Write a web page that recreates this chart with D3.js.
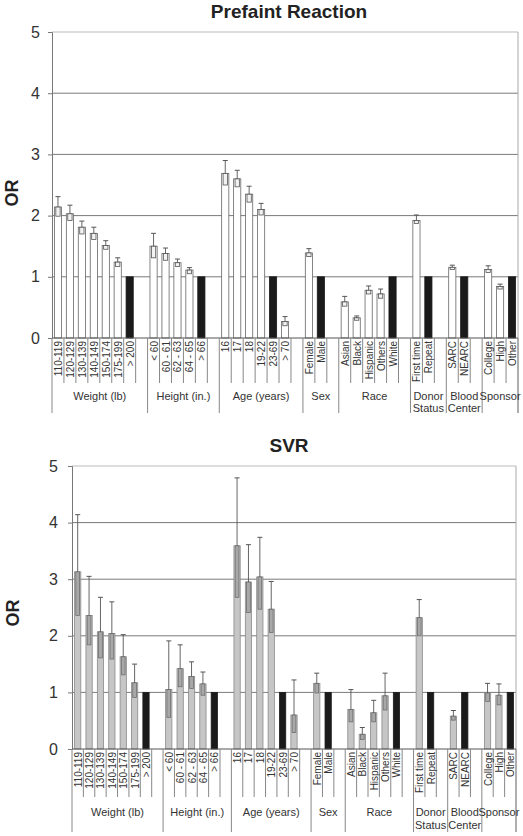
<!DOCTYPE html>
<html>
<head>
<meta charset="utf-8">
<script src="https://cdn.jsdelivr.net/npm/d3@7"></script>
<style>
  html, body { margin: 0; padding: 0; background: #fff; }
  svg { display: block; font-family: "Liberation Sans", Arial, sans-serif; }
</style>
</head>
<body>
<svg id="chart" width="523" height="836"></svg>
<script>
// ---- Data ----
const groupNames = ["Weight (lb)", "Height (in.)", "Age (years)", "Sex", "Race", "Donor\nStatus", "Blood\nCenter", "Sponsor"];
const groupSizes = [7, 5, 6, 2, 5, 2, 2, 3];
const categories = [
  "110-119", "120-129", "130-139", "140-149", "150-174", "175-199", "> 200",
  "< 60", "60 - 61", "62 - 63", "64 - 65", "> 66",
  "16", "17", "18", "19-22", "23-69", "> 70",
  "Female", "Male",
  "Asian", "Black", "Hispanic", "Others", "White",
  "First time", "Repeat",
  "SARC", "NEARC",
  "College", "High", "Other"
];
const yTicks = [0, 1, 2, 3, 4, 5];

const prefaintOR = [2.14, 2.03, 1.81, 1.71, 1.51, 1.24, 1, 1.50, 1.38, 1.23, 1.11, 1, 2.69, 2.60, 2.35, 2.10, 1, 0.27, 1.39, 1, 0.59, 0.33, 0.78, 0.72, 1, 1.92, 1, 1.155, 1, 1.12, 0.84, 1];
const prefaintLow = [1.99, 1.92, 1.70, 1.61, 1.45, 1.17, null, 1.31, 1.27, 1.17, 1.05, null, 2.50, 2.47, 2.22, 2.01, null, 0.20, 1.33, null, 0.52, 0.29, 0.72, 0.65, null, 1.87, null, 1.12, null, 1.07, 0.80, null];
const prefaintHigh = [2.31, 2.17, 1.91, 1.81, 1.59, 1.31, null, 1.71, 1.47, 1.29, 1.15, null, 2.90, 2.74, 2.48, 2.20, null, 0.35, 1.46, null, 0.68, 0.36, 0.85, 0.80, null, 2.01, null, 1.19, null, 1.18, 0.88, null];

const svrOR = [3.13, 2.36, 2.07, 2.04, 1.63, 1.17, 1, 1.05, 1.42, 1.28, 1.15, 1, 3.59, 2.95, 3.04, 2.47, 1, 0.60, 1.16, 1, 0.70, 0.26, 0.64, 0.94, 1, 2.32, 1, 0.58, 1, 0.99, 0.95, 1];
const svrLow = [2.36, 1.84, 1.61, 1.59, 1.31, 0.91, null, 0.56, 1.10, 1.07, 0.95, null, 2.68, 2.41, 2.47, 2.06, null, 0.29, 0.99, null, 0.48, 0.17, 0.48, 0.69, null, 2.00, null, 0.51, null, 0.84, 0.78, null];
const svrHigh = [4.14, 3.05, 2.68, 2.60, 2.02, 1.50, null, 1.91, 1.84, 1.54, 1.36, null, 4.79, 3.61, 3.74, 2.96, null, 1.22, 1.34, null, 1.05, 0.38, 0.86, 1.34, null, 2.64, null, 0.68, null, 1.16, 1.15, null];

// ---- Build slots (categories + one blank slot after each group but the last) ----
const slots = [];
const groupBounds = [];
let ci = 0;
groupSizes.forEach((n, g) => {
  const start = slots.length;
  for (let k = 0; k < n; k++) { slots.push({ key: "s" + slots.length, label: categories[ci], idx: ci }); ci++; }
  if (g < groupSizes.length - 1) slots.push({ key: "s" + slots.length, label: "", idx: -1 });
  groupBounds.push([start, slots.length]);
});

const svg = d3.select("#chart");

function drawChart(cfg) {
  const { title, titleY, left, right, yTop, y0, values, low, high, barFill, barStroke, innerFill, innerStroke,
          pad, tickLen, groupLen, labelY1, labelY2, orX, orY, yLabelX } = cfg;
  const g = svg.append("g");
  const x = d3.scaleBand().domain(slots.map(s => s.key)).range([left, right]).paddingInner(pad).paddingOuter(pad / 2);
  const step = x.step();
  const y = d3.scaleLinear().domain([0, 5]).range([y0, yTop]);
  const slotLeft = i => left + i * step;

  g.append("text").attr("x", 289).attr("y", titleY).attr("text-anchor", "middle")
    .attr("font-size", 19).attr("font-weight", "bold").attr("fill", "#222").text(title);

  g.append("text").attr("transform", `translate(${orX},${orY}) rotate(-90)`).attr("text-anchor", "middle")
    .attr("font-size", 18).attr("font-weight", "bold").attr("fill", "#222").text("OR");

  g.append("g").selectAll("line").data(yTicks.filter(t => t > 0)).join("line")
    .attr("x1", left).attr("x2", right).attr("y1", d => y(d)).attr("y2", d => y(d))
    .attr("stroke", d => d === 5 ? "#bbb" : "#7a7a7a").attr("stroke-width", 1);
  g.append("line").attr("x1", right).attr("x2", right).attr("y1", yTop).attr("y2", y0 + groupLen)
    .attr("stroke", "#aaa");

  const yAxis = d3.axisLeft(y).tickValues(yTicks).tickSize(4).tickPadding(yLabelX).tickFormat(d3.format("d"));
  const ax = g.append("g").attr("transform", `translate(${left},0)`).call(yAxis);
  ax.select(".domain").attr("stroke", "#777");
  ax.selectAll(".tick line").attr("stroke", "#777");
  ax.selectAll(".tick text").attr("font-size", 16).attr("fill", "#333").attr("font-family", "Liberation Sans, Arial, sans-serif");

  const data = slots.filter(s => s.idx >= 0);
  const bw = x.bandwidth();
  g.append("g").selectAll("rect").data(data).join("rect")
    .attr("x", d => x(d.key)).attr("width", bw)
    .attr("y", d => y(values[d.idx])).attr("height", d => y0 - y(values[d.idx]))
    .attr("fill", d => low[d.idx] === null ? "#1a1a1a" : barFill)
    .attr("stroke", d => low[d.idx] === null ? "#1a1a1a" : barStroke).attr("stroke-width", 0.8);

  const ciData = data.filter(d => low[d.idx] !== null);
  const iw = bw * 0.6;
  const eb = g.append("g");
  eb.selectAll("rect").data(ciData).join("rect")
    .attr("x", d => x(d.key) + (bw - iw) / 2).attr("width", iw)
    .attr("y", d => y(values[d.idx])).attr("height", d => y(low[d.idx]) - y(values[d.idx]))
    .attr("fill", innerFill).attr("stroke", innerStroke).attr("stroke-width", 0.8);
  eb.selectAll("line.wh").data(ciData).join("line").attr("class", "wh")
    .attr("x1", d => x(d.key) + bw / 2).attr("x2", d => x(d.key) + bw / 2)
    .attr("y1", d => y(values[d.idx])).attr("y2", d => y(high[d.idx]))
    .attr("stroke", "#555").attr("stroke-width", 0.9);
  eb.selectAll("line.cap").data(ciData).join("line").attr("class", "cap")
    .attr("x1", d => x(d.key) + bw / 2 - 2.5).attr("x2", d => x(d.key) + bw / 2 + 2.5)
    .attr("y1", d => y(high[d.idx])).attr("y2", d => y(high[d.idx]))
    .attr("stroke", "#555").attr("stroke-width", 1);

  g.append("line").attr("x1", left).attr("x2", right).attr("y1", y0).attr("y2", y0).attr("stroke", "#555");

  const groupEdges = new Set(groupBounds.flatMap(b => b));
  const edges = d3.range(0, slots.length + 1);
  g.append("g").selectAll("line").data(edges).join("line")
    .attr("x1", i => slotLeft(i)).attr("x2", i => slotLeft(i))
    .attr("y1", y0).attr("y2", i => groupEdges.has(i) ? y0 + groupLen : y0 + tickLen)
    .attr("stroke", "#888").attr("stroke-width", 1);

  g.append("g").selectAll("text").data(data).join("text")
    .attr("transform", d => `translate(${x(d.key) + bw / 2 + 0.5},${y0 + 3}) rotate(-90)`)
    .attr("text-anchor", "end").attr("dominant-baseline", "central")
    .attr("font-size", 10).attr("fill", "#333").text(d => d.label);

  groupBounds.forEach((b, gi) => {
    const cx = (slotLeft(b[0]) + slotLeft(b[1])) / 2;
    const lines = groupNames[gi].split("\n");
    lines.forEach((ln, li) => {
      g.append("text").attr("x", cx).attr("y", li === 0 ? labelY1 : labelY2)
        .attr("text-anchor", "middle").attr("font-size", 11).attr("fill", "#333").text(ln);
    });
  });
}

drawChart({
  title: "Prefaint Reaction", titleY: 18, left: 52, right: 518, yTop: 32, y0: 338,
  values: prefaintOR, low: prefaintLow, high: prefaintHigh,
  barFill: "#fff", barStroke: "#666", innerFill: "#f2f2f2", innerStroke: "#555",
  pad: 0.4, tickLen: 45, groupLen: 75, labelY1: 400, labelY2: 412, orX: 18, orY: 193, yLabelX: 8
});

drawChart({
  title: "SVR", titleY: 452, left: 72, right: 516, yTop: 466, y0: 749,
  values: svrOR, low: svrLow, high: svrHigh,
  barFill: "#c6c6c6", barStroke: "#8a8a8a", innerFill: "#a8a8a8", innerStroke: "#6e6e6e",
  pad: 0.45, tickLen: 48, groupLen: 83, labelY1: 816, labelY2: 829, orX: 19, orY: 613, yLabelX: 10
});
</script>
</body>
</html>
